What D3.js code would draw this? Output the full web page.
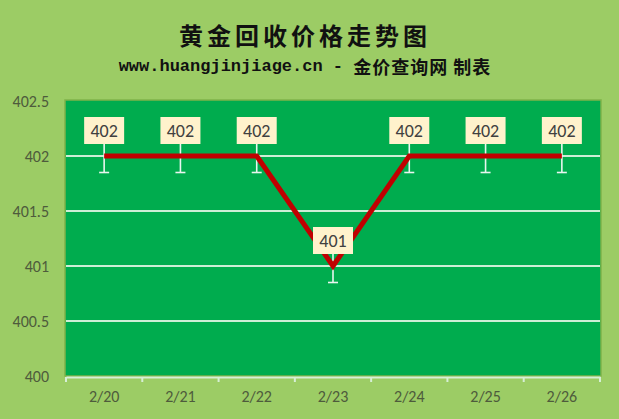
<!DOCTYPE html>
<html><head><meta charset="utf-8">
<script src="https://cdn.jsdelivr.net/npm/d3@7"></script>
<style>html,body{margin:0;padding:0;background:#9ccc65;}svg{display:block;}</style>
</head><body>
<svg id="chart" width="619" height="419"></svg>
<script>
const categories = ["2/20","2/21","2/22","2/23","2/24","2/25","2/26"];
const prices = [402, 402, 402, 401, 402, 402, 402];
const yTicks = [400, 400.5, 401, 401.5, 402, 402.5];
const errorAmount = 0.15;
const titleText = "黄金回收价格走势图";
const subtitleLatin = "www.huangjinjiage.cn - ";
const subtitleCJK = "金价查询网 制表";

const svg = d3.select("#chart");
const W = 619, H = 419;
const m = {left: 66, right: 19, top: 101, bottom: 43};
const pw = W - m.left - m.right, ph = H - m.top - m.bottom;
const bodyFont = "Carlito, Lato, 'Open Sans', sans-serif";

svg.append("rect").attr("width", W).attr("height", H).attr("fill", "#9ccc65");

const x = d3.scaleBand().domain(categories).range([m.left, m.left + pw]);
const y = d3.scaleLinear().domain([400, 402.5]).range([m.top + ph, m.top]);

// plot area
svg.append("rect").attr("x", m.left - 1).attr("y", m.top - 1).attr("width", pw + 2).attr("height", ph + 1)
  .attr("fill", "#00ac4e").attr("stroke", "#7fb24a").attr("stroke-width", 1.5);

// gridlines
svg.append("g").selectAll("line").data(yTicks.filter(t => t > 400 && t < 402.5)).join("line")
  .attr("x1", m.left).attr("x2", m.left + pw)
  .attr("y1", d => y(d)).attr("y2", d => y(d))
  .attr("stroke", "#cdeed6").attr("stroke-width", 2);

// y axis labels
const yAxis = d3.axisLeft(y).tickValues(yTicks).tickSize(0).tickPadding(17).tickFormat(d => String(d));
const gy = svg.append("g").attr("transform", `translate(${m.left},0)`).call(yAxis);
gy.select(".domain").remove();
gy.selectAll("text").attr("fill", "#4e5b3c").style("font-family", bodyFont).style("font-size", "16px");

// x axis
const edges = categories.map(c => x(c)).concat([m.left + pw]);
const xAxis = d3.axisBottom(x).tickSize(0).tickPadding(14);
const gx = svg.append("g").attr("transform", `translate(0,${m.top + ph + 1})`).call(xAxis);
gx.select(".domain").attr("stroke", "#d6efd6").attr("stroke-width", 2);
gx.selectAll("text").attr("fill", "#4e5b3c").style("font-family", bodyFont).style("font-size", "16px");
gx.append("g").selectAll("line").data(edges).join("line")
  .attr("x1", d => d).attr("x2", d => d).attr("y1", 0).attr("y2", 5)
  .attr("stroke", "#d6efd6").attr("stroke-width", 2);

const cx = c => x(c) + x.bandwidth() / 2;
const data = categories.map((c, i) => ({c, v: prices[i]}));

// error bars
const eb = svg.append("g").attr("stroke", "#e8f6ef").attr("stroke-width", 1.6);
data.forEach(d => {
  const x0 = cx(d.c), yl = y(d.v - errorAmount), yh = y(d.v + errorAmount);
  eb.append("line").attr("x1", x0).attr("x2", x0).attr("y1", yh).attr("y2", yl);
  eb.append("line").attr("x1", x0 - 5).attr("x2", x0 + 5).attr("y1", yl).attr("y2", yl);
  eb.append("line").attr("x1", x0 - 5).attr("x2", x0 + 5).attr("y1", yh).attr("y2", yh);
});

// line
svg.append("path").datum(data)
  .attr("d", d3.line().x(d => cx(d.c)).y(d => y(d.v)))
  .attr("fill", "none").attr("stroke", "#c00000").attr("stroke-width", 5).attr("stroke-linejoin", "miter");

// labels
const lg = svg.append("g");
data.forEach(d => {
  const x0 = cx(d.c), y0 = y(d.v);
  lg.append("rect").attr("x", x0 - 20).attr("y", y0 - 39).attr("width", 40).attr("height", 27).attr("fill", "#fff2cc");
  lg.append("text").attr("x", x0).attr("y", y0 - 25.5).attr("text-anchor", "middle").attr("dominant-baseline", "central")
    .attr("fill", "#404040").style("font-family", bodyFont).style("font-size", "18px")
    .text(d3.format("d")(d.v));
});

// titles
svg.append("text").attr("x", 305).attr("y", 34).attr("text-anchor", "middle").attr("dominant-baseline", "central")
  .style("font-family", "'Noto Sans CJK SC', sans-serif").style("font-size", "24px").style("font-weight", "bold")
  .style("letter-spacing", "4px").attr("fill", "#111").text(titleText);
const st = svg.append("text").attr("x", 305).attr("y", 66).attr("text-anchor", "middle").attr("dominant-baseline", "central")
  .style("font-weight", "bold").attr("fill", "#111");
st.append("tspan").style("font-family", "'Liberation Mono', 'DejaVu Sans Mono', monospace").style("font-size", "17px").text(subtitleLatin);
st.append("tspan").style("font-family", "'Noto Sans CJK SC', sans-serif").style("font-size", "18px").style("letter-spacing", "1px").text(subtitleCJK);
</script>
</body></html>
